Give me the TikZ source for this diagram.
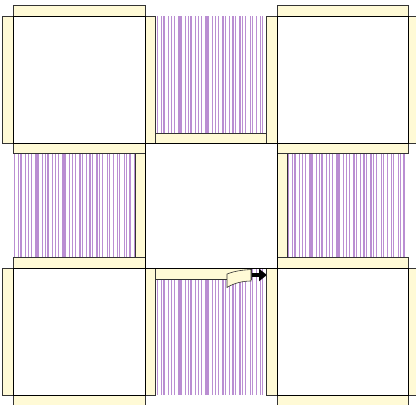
\documentclass[tikz,border=0pt]{standalone}
\usetikzlibrary{arrows.meta}

\definecolor{lilac}{RGB}{186,142,210}
\definecolor{cream}{RGB}{255,250,214}

% vertical hatching of one open bay
\newcommand\hatch[4]{%
  \pgfmathtruncatemacro\nlines{(#3-#1-3)/3.4}
  \foreach \i in {0,...,\nlines}{
    \pgfmathsetmacro\xx{#1+1.8+\i*3.4+0.7*sin(\i*137)}
    \draw[stripe] (\xx,#2) -- (\xx,#4);
  }}

\begin{document}
\begin{tikzpicture}[
  x=1pt, y=-1pt,
  >=Latex,
  strip/.style={draw=black!80, fill=cream, line width=0.6pt},
  panel/.style={draw=black, fill=white, line width=0.8pt},
  stripe/.style={draw=lilac, line width=1.3pt},
  push/.style={line width=4pt, -{Triangle[length=8pt,width=12pt]}}
]
\useasboundingbox (0,0) rectangle (416,405);
\clip (0,0) rectangle (416,405);

% open bays
\hatch{156}{16}{266}{133}
\hatch{13}{154}{135}{258}
\hatch{287}{154}{408}{258}
\hatch{156}{268}{266}{395}

% centre panel strips, bottom one peeled back
\draw[strip] (145,133) rectangle (277,143);
\draw[strip] (135,143) rectangle (145,268);
\draw[strip] (277,143) rectangle (287,268);
\draw[strip] (145,268) rectangle (251,279);
\draw[strip] (227,274) .. controls (236,270.5) and (244,270) .. (251,269.5)
  -- (251,281) .. controls (243,281) and (234,283) .. (227,287.5) -- cycle;
\coordinate (peel) at (252,275);
\coordinate (peelto) at (267,275);
\draw[push] (peel) -- (peelto);

% corner panels with their strips
\foreach \xa/\ya/\xb/\yb in {13/16/145/143, 277/16/408/143,
                             13/268/145/395, 277/268/408/395}{
  \draw[strip] (\xa,\ya-10.5) rectangle (\xb,\ya);
  \draw[strip] (\xa,\yb) rectangle (\xb,\yb+10.5);
  \draw[strip] (\xa-10.5,\ya) rectangle (\xa,\yb);
  \draw[strip] (\xb,\ya) rectangle (\xb+10.5,\yb);
  \draw[panel] (\xa,\ya) rectangle (\xb,\yb);
}

% centre panel
\draw[panel] (145,143) rectangle (277,268);

\end{tikzpicture}
\end{document}
